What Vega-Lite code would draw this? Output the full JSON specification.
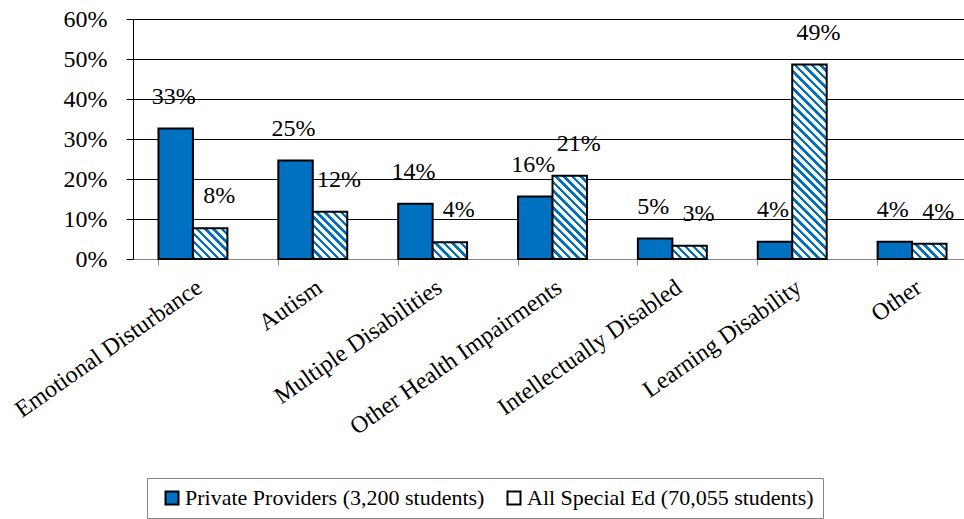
{
  "$schema": "https://vega.github.io/schema/vega-lite/v6.json",
  "width": 839,
  "height": 240,
  "autosize": {"type": "none"},
  "padding": {"left": 133, "top": 19, "right": -8, "bottom": 260},
  "config": {
    "view": {"stroke": null},
    "font": "Liberation Serif",
    "text": {"font": "Liberation Serif"}
  },
  "data": {
    "values": [
      {"category": "Emotional Disturbance", "series": "Private Providers (3,200 students)", "value": 0.326},
      {"category": "Emotional Disturbance", "series": "All Special Ed (70,055 students)", "value": 0.077},
      {"category": "Autism", "series": "Private Providers (3,200 students)", "value": 0.246},
      {"category": "Autism", "series": "All Special Ed (70,055 students)", "value": 0.118},
      {"category": "Multiple Disabilities", "series": "Private Providers (3,200 students)", "value": 0.138},
      {"category": "Multiple Disabilities", "series": "All Special Ed (70,055 students)", "value": 0.042},
      {"category": "Other Health Impairments", "series": "Private Providers (3,200 students)", "value": 0.156},
      {"category": "Other Health Impairments", "series": "All Special Ed (70,055 students)", "value": 0.208},
      {"category": "Intellectually Disabled", "series": "Private Providers (3,200 students)", "value": 0.051},
      {"category": "Intellectually Disabled", "series": "All Special Ed (70,055 students)", "value": 0.033},
      {"category": "Learning Disability", "series": "Private Providers (3,200 students)", "value": 0.043},
      {"category": "Learning Disability", "series": "All Special Ed (70,055 students)", "value": 0.486},
      {"category": "Other", "series": "Private Providers (3,200 students)", "value": 0.043},
      {"category": "Other", "series": "All Special Ed (70,055 students)", "value": 0.038}
    ]
  },
  "encoding": {
    "x": {
      "field": "category", "type": "nominal", "sort": null,
      "scale": {"paddingInner": 0.425, "paddingOuter": 0.2125},
      "axis": {
        "title": null, "bandPosition": 0, "labelAngle": -35, "labelAlign": "right", "labelBaseline": "top",
        "labelFontSize": 24, "labelFont": "Liberation Serif", "labelColor": "black", "labelPadding": 10,
        "labelLimit": 400, "tickSize": 6, "tickColor": "#868686", "domainColor": "#868686", "grid": false
      }
    },
    "xOffset": {"field": "series", "sort": null, "scale": {"paddingInner": 0, "paddingOuter": 0}},
    "y": {
      "field": "value", "type": "quantitative",
      "scale": {"domain": [0, 0.6]},
      "axis": {
        "title": null, "values": [0, 0.1, 0.2, 0.3, 0.4, 0.5, 0.6], "format": ".0%",
        "labelFontSize": 24, "labelFont": "Liberation Serif", "labelColor": "black", "labelPadding": 19,
        "tickSize": 7, "tickColor": "black", "domainColor": "black", "grid": true, "gridColor": "black", "gridWidth": 1
      }
    }
  },
  "layer": [
    {
      "mark": {"type": "bar", "stroke": "black", "strokeWidth": 2},
      "encoding": {
        "fill": {
          "field": "series", "type": "nominal", "sort": null,
          "scale": {
            "domain": ["Private Providers (3,200 students)", "All Special Ed (70,055 students)"],
            "range": ["#0070C0", "#ffffff"]
          },
          "legend": {
            "orient": "none", "legendX": 14, "legendY": 459, "direction": "horizontal",
            "title": " ", "titleOrient": "left", "titleFontSize": 1, "titlePadding": 5,
            "strokeColor": "#868686", "padding": 9, "labelFontSize": 22, "labelFont": "Liberation Serif", "labelColor": "black",
            "labelLimit": 400, "symbolType": "square", "symbolSize": 169, "symbolStrokeColor": "black", "symbolStrokeWidth": 2,
            "columnPadding": 18, "labelOffset": 2,
            "encode": {
              "symbols": {
                "update": {
                  "stroke": {"value": "black"},
                  "strokeWidth": {"value": 2},
                  "fill": {
                    "condition": {"test": "datum.value === 'All Special Ed (70,055 students)'", "signal": "{gradient: 'linear', x1: 0, y1: 0, x2: 1, y2: 1, stops: [{offset: 0, color: '#0070C0'}, {offset: 0.38, color: '#0070C0'}, {offset: 0.38, color: '#ffffff'}, {offset: 0.72, color: '#ffffff'}, {offset: 0.72, color: '#0070C0'}, {offset: 0.84, color: '#0070C0'}, {offset: 0.84, color: '#ffffff'}, {offset: 1, color: '#ffffff'}]}"},
                    "value": "#0070C0"
                  }
                }
              }
            }
          },
          "condition": [
            {"test": "datum.series === 'All Special Ed (70,055 students)' && datum.category === 'Emotional Disturbance'",
             "value": {"gradient": "linear", "x1": 0, "y1": 1, "x2": 1.0533, "y2": 0.0596, "stops": [
              {"offset": 0, "color": "#0070C0"}, {"offset": 0.0525, "color": "#0070C0"}, {"offset": 0.0525, "color": "#ffffff"}, {"offset": 0.125, "color": "#ffffff"},
              {"offset": 0.125, "color": "#0070C0"}, {"offset": 0.1775, "color": "#0070C0"}, {"offset": 0.1775, "color": "#ffffff"}, {"offset": 0.25, "color": "#ffffff"},
              {"offset": 0.25, "color": "#0070C0"}, {"offset": 0.3025, "color": "#0070C0"}, {"offset": 0.3025, "color": "#ffffff"}, {"offset": 0.375, "color": "#ffffff"},
              {"offset": 0.375, "color": "#0070C0"}, {"offset": 0.4275, "color": "#0070C0"}, {"offset": 0.4275, "color": "#ffffff"}, {"offset": 0.5, "color": "#ffffff"},
              {"offset": 0.5, "color": "#0070C0"}, {"offset": 0.5525, "color": "#0070C0"}, {"offset": 0.5525, "color": "#ffffff"}, {"offset": 0.625, "color": "#ffffff"},
              {"offset": 0.625, "color": "#0070C0"}, {"offset": 0.6775, "color": "#0070C0"}, {"offset": 0.6775, "color": "#ffffff"}, {"offset": 0.75, "color": "#ffffff"},
              {"offset": 0.75, "color": "#0070C0"}, {"offset": 0.8025, "color": "#0070C0"}, {"offset": 0.8025, "color": "#ffffff"}, {"offset": 0.875, "color": "#ffffff"},
              {"offset": 0.875, "color": "#0070C0"}, {"offset": 0.9275, "color": "#0070C0"}, {"offset": 0.9275, "color": "#ffffff"}, {"offset": 1, "color": "#ffffff"}]}},
            {"test": "datum.series === 'All Special Ed (70,055 students)' && datum.category === 'Autism'",
             "value": {"gradient": "linear", "x1": 0, "y1": 1, "x2": 0.8246, "y2": -0.1282, "stops": [
              {"offset": 0, "color": "#0070C0"}, {"offset": 0.042, "color": "#0070C0"}, {"offset": 0.042, "color": "#ffffff"}, {"offset": 0.1, "color": "#ffffff"},
              {"offset": 0.1, "color": "#0070C0"}, {"offset": 0.142, "color": "#0070C0"}, {"offset": 0.142, "color": "#ffffff"}, {"offset": 0.2, "color": "#ffffff"},
              {"offset": 0.2, "color": "#0070C0"}, {"offset": 0.242, "color": "#0070C0"}, {"offset": 0.242, "color": "#ffffff"}, {"offset": 0.3, "color": "#ffffff"},
              {"offset": 0.3, "color": "#0070C0"}, {"offset": 0.342, "color": "#0070C0"}, {"offset": 0.342, "color": "#ffffff"}, {"offset": 0.4, "color": "#ffffff"},
              {"offset": 0.4, "color": "#0070C0"}, {"offset": 0.442, "color": "#0070C0"}, {"offset": 0.442, "color": "#ffffff"}, {"offset": 0.5, "color": "#ffffff"},
              {"offset": 0.5, "color": "#0070C0"}, {"offset": 0.542, "color": "#0070C0"}, {"offset": 0.542, "color": "#ffffff"}, {"offset": 0.6, "color": "#ffffff"},
              {"offset": 0.6, "color": "#0070C0"}, {"offset": 0.642, "color": "#0070C0"}, {"offset": 0.642, "color": "#ffffff"}, {"offset": 0.7, "color": "#ffffff"},
              {"offset": 0.7, "color": "#0070C0"}, {"offset": 0.742, "color": "#0070C0"}, {"offset": 0.742, "color": "#ffffff"}, {"offset": 0.8, "color": "#ffffff"},
              {"offset": 0.8, "color": "#0070C0"}, {"offset": 0.842, "color": "#0070C0"}, {"offset": 0.842, "color": "#ffffff"}, {"offset": 0.9, "color": "#ffffff"},
              {"offset": 0.9, "color": "#0070C0"}, {"offset": 0.942, "color": "#0070C0"}, {"offset": 0.942, "color": "#ffffff"}, {"offset": 1, "color": "#ffffff"}]}},
            {"test": "datum.series === 'All Special Ed (70,055 students)' && datum.category === 'Multiple Disabilities'",
             "value": {"gradient": "linear", "x1": 0, "y1": 1, "x2": 1.2020, "y2": 0.4146, "stops": [
              {"offset": 0, "color": "#0070C0"}, {"offset": 0.07, "color": "#0070C0"}, {"offset": 0.07, "color": "#ffffff"}, {"offset": 0.1667, "color": "#ffffff"},
              {"offset": 0.1667, "color": "#0070C0"}, {"offset": 0.2367, "color": "#0070C0"}, {"offset": 0.2367, "color": "#ffffff"}, {"offset": 0.3333, "color": "#ffffff"},
              {"offset": 0.3333, "color": "#0070C0"}, {"offset": 0.4033, "color": "#0070C0"}, {"offset": 0.4033, "color": "#ffffff"}, {"offset": 0.5, "color": "#ffffff"},
              {"offset": 0.5, "color": "#0070C0"}, {"offset": 0.57, "color": "#0070C0"}, {"offset": 0.57, "color": "#ffffff"}, {"offset": 0.6667, "color": "#ffffff"},
              {"offset": 0.6667, "color": "#0070C0"}, {"offset": 0.7367, "color": "#0070C0"}, {"offset": 0.7367, "color": "#ffffff"}, {"offset": 0.8333, "color": "#ffffff"},
              {"offset": 0.8333, "color": "#0070C0"}, {"offset": 0.9033, "color": "#0070C0"}, {"offset": 0.9033, "color": "#ffffff"}, {"offset": 1, "color": "#ffffff"}]}},
            {"test": "datum.series === 'All Special Ed (70,055 students)' && datum.category === 'Other Health Impairments'",
             "value": {"gradient": "linear", "x1": 0, "y1": 1, "x2": 0.5005, "y2": -0.2071, "stops": [
              {"offset": 0, "color": "#0070C0"}, {"offset": 0.03, "color": "#0070C0"}, {"offset": 0.03, "color": "#ffffff"}, {"offset": 0.0714, "color": "#ffffff"},
              {"offset": 0.0714, "color": "#0070C0"}, {"offset": 0.1014, "color": "#0070C0"}, {"offset": 0.1014, "color": "#ffffff"}, {"offset": 0.1429, "color": "#ffffff"},
              {"offset": 0.1429, "color": "#0070C0"}, {"offset": 0.1729, "color": "#0070C0"}, {"offset": 0.1729, "color": "#ffffff"}, {"offset": 0.2143, "color": "#ffffff"},
              {"offset": 0.2143, "color": "#0070C0"}, {"offset": 0.2443, "color": "#0070C0"}, {"offset": 0.2443, "color": "#ffffff"}, {"offset": 0.2857, "color": "#ffffff"},
              {"offset": 0.2857, "color": "#0070C0"}, {"offset": 0.3157, "color": "#0070C0"}, {"offset": 0.3157, "color": "#ffffff"}, {"offset": 0.3571, "color": "#ffffff"},
              {"offset": 0.3571, "color": "#0070C0"}, {"offset": 0.3871, "color": "#0070C0"}, {"offset": 0.3871, "color": "#ffffff"}, {"offset": 0.4286, "color": "#ffffff"},
              {"offset": 0.4286, "color": "#0070C0"}, {"offset": 0.4586, "color": "#0070C0"}, {"offset": 0.4586, "color": "#ffffff"}, {"offset": 0.5, "color": "#ffffff"},
              {"offset": 0.5, "color": "#0070C0"}, {"offset": 0.53, "color": "#0070C0"}, {"offset": 0.53, "color": "#ffffff"}, {"offset": 0.5714, "color": "#ffffff"},
              {"offset": 0.5714, "color": "#0070C0"}, {"offset": 0.6014, "color": "#0070C0"}, {"offset": 0.6014, "color": "#ffffff"}, {"offset": 0.6429, "color": "#ffffff"},
              {"offset": 0.6429, "color": "#0070C0"}, {"offset": 0.6729, "color": "#0070C0"}, {"offset": 0.6729, "color": "#ffffff"}, {"offset": 0.7143, "color": "#ffffff"},
              {"offset": 0.7143, "color": "#0070C0"}, {"offset": 0.7443, "color": "#0070C0"}, {"offset": 0.7443, "color": "#ffffff"}, {"offset": 0.7857, "color": "#ffffff"},
              {"offset": 0.7857, "color": "#0070C0"}, {"offset": 0.8157, "color": "#0070C0"}, {"offset": 0.8157, "color": "#ffffff"}, {"offset": 0.8571, "color": "#ffffff"},
              {"offset": 0.8571, "color": "#0070C0"}, {"offset": 0.8871, "color": "#0070C0"}, {"offset": 0.8871, "color": "#ffffff"}, {"offset": 0.9286, "color": "#ffffff"},
              {"offset": 0.9286, "color": "#0070C0"}, {"offset": 0.9586, "color": "#0070C0"}, {"offset": 0.9586, "color": "#ffffff"}, {"offset": 1, "color": "#ffffff"}]}},
            {"test": "datum.series === 'All Special Ed (70,055 students)' && datum.category === 'Intellectually Disabled'",
             "value": {"gradient": "linear", "x1": 0, "y1": 1, "x2": 1.2060, "y2": 0.5386, "stops": [
              {"offset": 0, "color": "#0070C0"}, {"offset": 0.07, "color": "#0070C0"}, {"offset": 0.07, "color": "#ffffff"}, {"offset": 0.1667, "color": "#ffffff"},
              {"offset": 0.1667, "color": "#0070C0"}, {"offset": 0.2367, "color": "#0070C0"}, {"offset": 0.2367, "color": "#ffffff"}, {"offset": 0.3333, "color": "#ffffff"},
              {"offset": 0.3333, "color": "#0070C0"}, {"offset": 0.4033, "color": "#0070C0"}, {"offset": 0.4033, "color": "#ffffff"}, {"offset": 0.5, "color": "#ffffff"},
              {"offset": 0.5, "color": "#0070C0"}, {"offset": 0.57, "color": "#0070C0"}, {"offset": 0.57, "color": "#ffffff"}, {"offset": 0.6667, "color": "#ffffff"},
              {"offset": 0.6667, "color": "#0070C0"}, {"offset": 0.7367, "color": "#0070C0"}, {"offset": 0.7367, "color": "#ffffff"}, {"offset": 0.8333, "color": "#ffffff"},
              {"offset": 0.8333, "color": "#0070C0"}, {"offset": 0.9033, "color": "#0070C0"}, {"offset": 0.9033, "color": "#ffffff"}, {"offset": 1, "color": "#ffffff"}]}},
            {"test": "datum.series === 'All Special Ed (70,055 students)' && datum.category === 'Learning Disability'",
             "value": {"gradient": "linear", "x1": 0, "y1": 1, "x2": 0.2026, "y2": -0.1415, "stops": [
              {"offset": 0, "color": "#0070C0"}, {"offset": 0.0156, "color": "#0070C0"}, {"offset": 0.0156, "color": "#ffffff"}, {"offset": 0.037, "color": "#ffffff"},
              {"offset": 0.037, "color": "#0070C0"}, {"offset": 0.0526, "color": "#0070C0"}, {"offset": 0.0526, "color": "#ffffff"}, {"offset": 0.0741, "color": "#ffffff"},
              {"offset": 0.0741, "color": "#0070C0"}, {"offset": 0.0897, "color": "#0070C0"}, {"offset": 0.0897, "color": "#ffffff"}, {"offset": 0.1111, "color": "#ffffff"},
              {"offset": 0.1111, "color": "#0070C0"}, {"offset": 0.1267, "color": "#0070C0"}, {"offset": 0.1267, "color": "#ffffff"}, {"offset": 0.1481, "color": "#ffffff"},
              {"offset": 0.1481, "color": "#0070C0"}, {"offset": 0.1637, "color": "#0070C0"}, {"offset": 0.1637, "color": "#ffffff"}, {"offset": 0.1852, "color": "#ffffff"},
              {"offset": 0.1852, "color": "#0070C0"}, {"offset": 0.2008, "color": "#0070C0"}, {"offset": 0.2008, "color": "#ffffff"}, {"offset": 0.2222, "color": "#ffffff"},
              {"offset": 0.2222, "color": "#0070C0"}, {"offset": 0.2378, "color": "#0070C0"}, {"offset": 0.2378, "color": "#ffffff"}, {"offset": 0.2593, "color": "#ffffff"},
              {"offset": 0.2593, "color": "#0070C0"}, {"offset": 0.2749, "color": "#0070C0"}, {"offset": 0.2749, "color": "#ffffff"}, {"offset": 0.2963, "color": "#ffffff"},
              {"offset": 0.2963, "color": "#0070C0"}, {"offset": 0.3119, "color": "#0070C0"}, {"offset": 0.3119, "color": "#ffffff"}, {"offset": 0.3333, "color": "#ffffff"},
              {"offset": 0.3333, "color": "#0070C0"}, {"offset": 0.3489, "color": "#0070C0"}, {"offset": 0.3489, "color": "#ffffff"}, {"offset": 0.3704, "color": "#ffffff"},
              {"offset": 0.3704, "color": "#0070C0"}, {"offset": 0.386, "color": "#0070C0"}, {"offset": 0.386, "color": "#ffffff"}, {"offset": 0.4074, "color": "#ffffff"},
              {"offset": 0.4074, "color": "#0070C0"}, {"offset": 0.423, "color": "#0070C0"}, {"offset": 0.423, "color": "#ffffff"}, {"offset": 0.4444, "color": "#ffffff"},
              {"offset": 0.4444, "color": "#0070C0"}, {"offset": 0.46, "color": "#0070C0"}, {"offset": 0.46, "color": "#ffffff"}, {"offset": 0.4815, "color": "#ffffff"},
              {"offset": 0.4815, "color": "#0070C0"}, {"offset": 0.4971, "color": "#0070C0"}, {"offset": 0.4971, "color": "#ffffff"}, {"offset": 0.5185, "color": "#ffffff"},
              {"offset": 0.5185, "color": "#0070C0"}, {"offset": 0.5341, "color": "#0070C0"}, {"offset": 0.5341, "color": "#ffffff"}, {"offset": 0.5556, "color": "#ffffff"},
              {"offset": 0.5556, "color": "#0070C0"}, {"offset": 0.5712, "color": "#0070C0"}, {"offset": 0.5712, "color": "#ffffff"}, {"offset": 0.5926, "color": "#ffffff"},
              {"offset": 0.5926, "color": "#0070C0"}, {"offset": 0.6082, "color": "#0070C0"}, {"offset": 0.6082, "color": "#ffffff"}, {"offset": 0.6296, "color": "#ffffff"},
              {"offset": 0.6296, "color": "#0070C0"}, {"offset": 0.6452, "color": "#0070C0"}, {"offset": 0.6452, "color": "#ffffff"}, {"offset": 0.6667, "color": "#ffffff"},
              {"offset": 0.6667, "color": "#0070C0"}, {"offset": 0.6823, "color": "#0070C0"}, {"offset": 0.6823, "color": "#ffffff"}, {"offset": 0.7037, "color": "#ffffff"},
              {"offset": 0.7037, "color": "#0070C0"}, {"offset": 0.7193, "color": "#0070C0"}, {"offset": 0.7193, "color": "#ffffff"}, {"offset": 0.7407, "color": "#ffffff"},
              {"offset": 0.7407, "color": "#0070C0"}, {"offset": 0.7563, "color": "#0070C0"}, {"offset": 0.7563, "color": "#ffffff"}, {"offset": 0.7778, "color": "#ffffff"},
              {"offset": 0.7778, "color": "#0070C0"}, {"offset": 0.7934, "color": "#0070C0"}, {"offset": 0.7934, "color": "#ffffff"}, {"offset": 0.8148, "color": "#ffffff"},
              {"offset": 0.8148, "color": "#0070C0"}, {"offset": 0.8304, "color": "#0070C0"}, {"offset": 0.8304, "color": "#ffffff"}, {"offset": 0.8519, "color": "#ffffff"},
              {"offset": 0.8519, "color": "#0070C0"}, {"offset": 0.8675, "color": "#0070C0"}, {"offset": 0.8675, "color": "#ffffff"}, {"offset": 0.8889, "color": "#ffffff"},
              {"offset": 0.8889, "color": "#0070C0"}, {"offset": 0.9045, "color": "#0070C0"}, {"offset": 0.9045, "color": "#ffffff"}, {"offset": 0.9259, "color": "#ffffff"},
              {"offset": 0.9259, "color": "#0070C0"}, {"offset": 0.9415, "color": "#0070C0"}, {"offset": 0.9415, "color": "#ffffff"}, {"offset": 0.963, "color": "#ffffff"},
              {"offset": 0.963, "color": "#0070C0"}, {"offset": 0.9786, "color": "#0070C0"}, {"offset": 0.9786, "color": "#ffffff"}, {"offset": 1, "color": "#ffffff"}]}},
            {"test": "datum.series === 'All Special Ed (70,055 students)' && datum.category === 'Other'",
             "value": {"gradient": "linear", "x1": 0, "y1": 1, "x2": 1.2064, "y2": 0.4685, "stops": [
              {"offset": 0, "color": "#0070C0"}, {"offset": 0.07, "color": "#0070C0"}, {"offset": 0.07, "color": "#ffffff"}, {"offset": 0.1667, "color": "#ffffff"},
              {"offset": 0.1667, "color": "#0070C0"}, {"offset": 0.2367, "color": "#0070C0"}, {"offset": 0.2367, "color": "#ffffff"}, {"offset": 0.3333, "color": "#ffffff"},
              {"offset": 0.3333, "color": "#0070C0"}, {"offset": 0.4033, "color": "#0070C0"}, {"offset": 0.4033, "color": "#ffffff"}, {"offset": 0.5, "color": "#ffffff"},
              {"offset": 0.5, "color": "#0070C0"}, {"offset": 0.57, "color": "#0070C0"}, {"offset": 0.57, "color": "#ffffff"}, {"offset": 0.6667, "color": "#ffffff"},
              {"offset": 0.6667, "color": "#0070C0"}, {"offset": 0.7367, "color": "#0070C0"}, {"offset": 0.7367, "color": "#ffffff"}, {"offset": 0.8333, "color": "#ffffff"},
              {"offset": 0.8333, "color": "#0070C0"}, {"offset": 0.9033, "color": "#0070C0"}, {"offset": 0.9033, "color": "#ffffff"}, {"offset": 1, "color": "#ffffff"}]}}
          ]
        }
      }
    },
    {
      "transform": [{"filter": "datum.series === 'Private Providers (3,200 students)'"}],
      "mark": {"type": "text", "font": "Liberation Serif", "fontSize": 24, "color": "black", "baseline": "alphabetic", "dy": -25, "dx": -2},
      "encoding": {"text": {"field": "value", "type": "quantitative", "format": ".0%"}}
    },
    {
      "transform": [{"filter": "datum.series === 'All Special Ed (70,055 students)'"}],
      "mark": {"type": "text", "font": "Liberation Serif", "fontSize": 24, "color": "black", "baseline": "alphabetic", "dy": -25, "dx": 9},
      "encoding": {"text": {"field": "value", "type": "quantitative", "format": ".0%"}}
    }
  ]
}
